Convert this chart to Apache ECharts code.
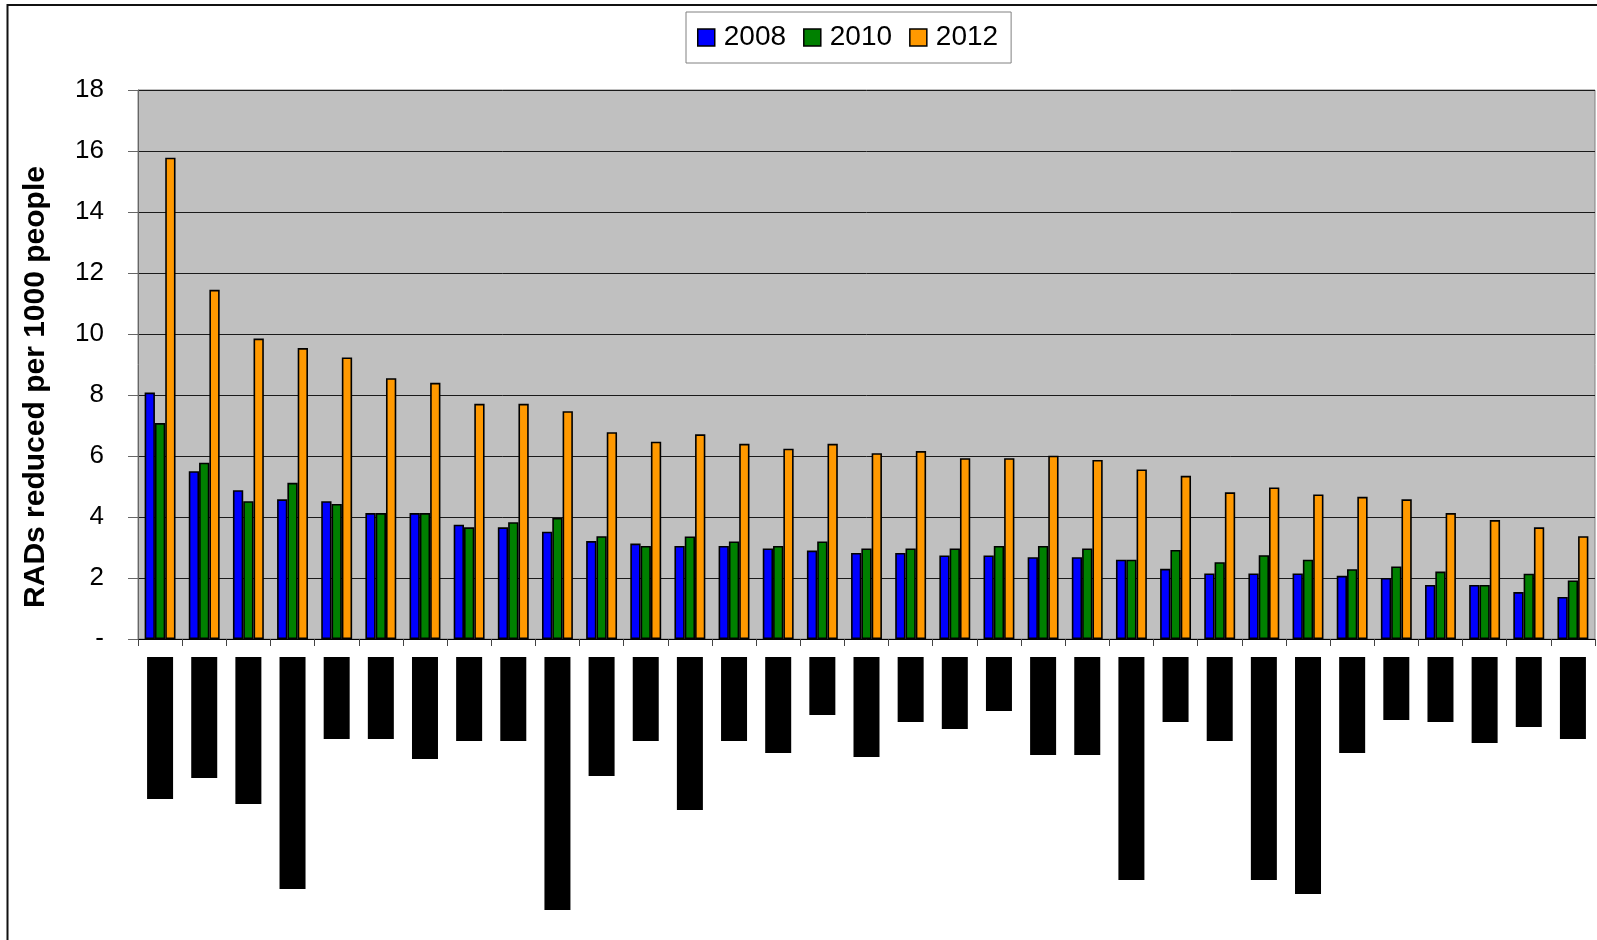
<!DOCTYPE html>
<html>
<head>
<meta charset="utf-8">
<script src="https://cdn.jsdelivr.net/npm/echarts@6/dist/echarts.min.js"></script>
<style>
  html, body { margin: 0; padding: 0; background: #fff; }
  #chart { width: 1597px; height: 940px; }
</style>
</head>
<body>
<div id="chart"></div>
<script>
// Category slots (names are redacted; blocks drawn below the axis)
const categories = ['1','2','3','4','5','6','7','8','9','10','11','12','13','14','15','16','17',
  '18','19','20','21','22','23','24','25','26','27','28','29','30','31','32','33'];

// RADs reduced per 1000 people
const rads2008 = [8.08, 5.50, 4.88, 4.58, 4.52, 4.13, 4.13, 3.75, 3.66, 3.52, 3.21, 3.13, 3.05, 3.05, 2.97, 2.90, 2.82,
  2.82, 2.74, 2.74, 2.68, 2.68, 2.60, 2.30, 2.15, 2.15, 2.15, 2.07, 2.00, 1.77, 1.77, 1.54, 1.38];
const rads2010 = [7.08, 5.78, 4.52, 5.12, 4.43, 4.13, 4.13, 3.66, 3.83, 3.97, 3.37, 3.05, 3.36, 3.20, 3.05, 3.20, 2.97,
  2.97, 2.97, 3.05, 3.05, 2.97, 2.60, 2.92, 2.52, 2.75, 2.60, 2.29, 2.38, 2.21, 1.77, 2.14, 1.92];
const rads2012 = [15.78, 11.45, 9.85, 9.54, 9.23, 8.55, 8.40, 7.71, 7.71, 7.47, 6.78, 6.47, 6.71, 6.40, 6.24, 6.40, 6.09,
  6.16, 5.93, 5.93, 6.01, 5.87, 5.56, 5.35, 4.81, 4.97, 4.74, 4.66, 4.58, 4.13, 3.90, 3.66, 3.37];

// Lengths of the redacted category-name blocks
const redactedLabelLen = [142, 121, 147, 232, 82, 82, 102, 84, 84, 253, 119, 84, 153, 84, 96, 58, 100,
  65, 72, 54, 98, 98, 223, 65, 84, 223, 237, 96, 63, 65, 86, 70, 82];

// Y tick labels (0 shown as a dash)
const yTickLabels = ['-', '2', '4', '6', '8', '10', '12', '14', '16', '18'];

const seriesNames = ['2008', '2010', '2012'];
const seriesColors = ['#0000FF', '#008000', '#FF9900'];
const seriesData = [rads2008, rads2010, rads2012];

const FONT = "'Liberation Sans', Arial, sans-serif";

const chart = echarts.init(document.getElementById('chart'), null, { renderer: 'canvas' });

const barSeries = seriesNames.map((name, i) => ({
  name: name,
  type: 'bar',
  xAxisIndex: 0,
  yAxisIndex: 0,
  data: seriesData[i],
  barGap: '0%',
  barCategoryGap: '30%',
  itemStyle: { color: seriesColors[i], borderColor: '#000', borderWidth: 1.6 },
  emphasis: { disabled: true },
  animation: false
}));

const option = {
  animation: false,
  textStyle: { fontFamily: FONT },
  legend: {
    data: seriesNames,
    left: 686,
    top: 12,
    orient: 'horizontal',
    icon: 'rect',
    itemWidth: 17,
    itemHeight: 17,
    itemGap: 17,
    padding: [10, 13, 10, 11],
    borderColor: '#808080',
    borderWidth: 1,
    backgroundColor: '#fff',
    itemStyle: { borderColor: '#000', borderWidth: 1.5 },
    textStyle: { fontSize: 28, color: '#000', fontFamily: FONT, lineHeight: 31, padding: [0, 0, 0, 4] }
  },
  grid: [
    {
      left: 138, top: 90, width: 1457, height: 549,
      show: true, backgroundColor: '#C0C0C0', borderColor: '#808080', borderWidth: 1
    },
    {
      left: 138, top: 657, width: 1457, height: 260, show: false
    }
  ],
  xAxis: [
    {
      type: 'category', gridIndex: 0, data: categories,
      axisLine: { show: true, lineStyle: { color: '#000', width: 1 } },
      axisTick: { show: true, interval: 0, length: 7, lineStyle: { color: '#444' } },
      axisLabel: { show: false },
      splitLine: { show: false }
    },
    {
      type: 'category', gridIndex: 1, data: categories,
      axisLine: { show: false }, axisTick: { show: false }, axisLabel: { show: false }
    }
  ],
  yAxis: [
    {
      type: 'value', gridIndex: 0, min: 0, max: 18, interval: 2,
      axisLine: { show: true, lineStyle: { color: '#666', width: 1 } },
      axisTick: { show: true, length: 10, lineStyle: { color: '#666' } },
      axisLabel: {
        margin: 34, fontSize: 26, color: '#000', fontFamily: FONT,
        formatter: v => yTickLabels[Math.round(v / 2)]
      },
      splitLine: { show: true, lineStyle: { color: '#1a1a1a', width: 1 } }
    },
    {
      type: 'value', gridIndex: 1, min: 0, max: 260, inverse: true,
      axisLine: { show: false }, axisTick: { show: false }, axisLabel: { show: false },
      splitLine: { show: false }
    }
  ],
  series: barSeries.concat([{
    name: 'redacted',
    type: 'bar',
    xAxisIndex: 1,
    yAxisIndex: 1,
    data: redactedLabelLen,
    barWidth: 26,
    itemStyle: { color: '#000' },
    emphasis: { disabled: true },
    silent: true,
    animation: false
  }]),
  graphic: [
    {
      type: 'rect',
      shape: { x: 7.5, y: 5, width: 1700, height: 1100 },
      style: { fill: 'none', stroke: '#111', lineWidth: 2 },
      silent: true, z: 100
    },
    {
      type: 'text',
      x: 36, y: 387,
      rotation: Math.PI / 2,
      style: {
        text: 'RADs reduced per 1000 people',
        font: 'bold 30px ' + FONT,
        fill: '#000',
        textAlign: 'center',
        textVerticalAlign: 'middle'
      },
      silent: true
    }
  ]
};

chart.setOption(option);
</script>
</body>
</html>
